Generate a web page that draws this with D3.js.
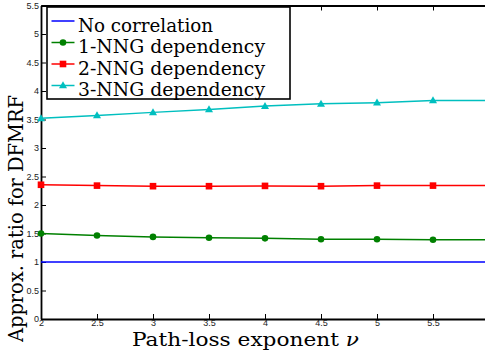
<!DOCTYPE html>
<html>
<head>
<meta charset="utf-8">
<script src="https://cdn.jsdelivr.net/npm/d3@7"></script>
<style>
  html, body { margin: 0; padding: 0; background: #fff; }
  svg { display: block; }
  .serif { font-family: "DejaVu Serif", "Liberation Serif", "Noto Serif", serif; }
  .sans { font-family: "Liberation Sans", "DejaVu Sans", sans-serif; }
</style>
</head>
<body>
<svg id="chart" width="485" height="357"></svg>
<script>
// Path-loss exponent values (x) and approximation ratios per dependency model
const nu = [2, 2.5, 3, 3.5, 4, 4.5, 5, 5.5, 6];
const noCorrelation = [1, 1, 1, 1, 1, 1, 1, 1, 1];
const nng1 = [1.50, 1.465, 1.44, 1.425, 1.415, 1.40, 1.40, 1.39, 1.39];
const nng2 = [2.355, 2.34, 2.33, 2.33, 2.335, 2.33, 2.34, 2.34, 2.34];
const nng3 = [3.52, 3.57, 3.625, 3.675, 3.735, 3.775, 3.795, 3.835, 3.835];

const xTicks = [2, 2.5, 3, 3.5, 4, 4.5, 5, 5.5];
const yTicks = [0, 0.5, 1, 1.5, 2, 2.5, 3, 3.5, 4, 4.5, 5, 5.5];

const seriesNames = ["No correlation", "1-NNG dependency", "2-NNG dependency", "3-NNG dependency"];
const seriesValues = [noCorrelation, nng1, nng2, nng3];
const seriesColors = ["#0000ff", "#008000", "#ff0000", "#00bfbf"];
const seriesMarkers = [null, "circle", "square", "triangle"];

const svg = d3.select("#chart");
const plotLeft = 41, plotRight = 489, plotTop = 5.5, plotBottom = 319;

const x = d3.scaleLinear().domain([2, 6]).range([plotLeft, plotRight]);
const y = d3.scaleLinear().domain([0, 5.5]).range([plotBottom, plotTop]);

// Axes: ticks point inward, box style with top axis
function styleAxis(g) {
  g.attr("font-family", null).attr("font-size", null);
  g.select(".domain").attr("stroke", "#000").attr("stroke-width", 1.8);
  g.selectAll(".tick line").attr("stroke", "#000").attr("stroke-width", 1);
  g.selectAll(".tick text").attr("fill", "#222").attr("class", "sans").style("font-size", "9px");
}

svg.append("g")
  .attr("transform", `translate(0,${plotBottom})`)
  .call(d3.axisBottom(x).tickValues(xTicks).tickFormat(d3.format("")).tickSizeInner(-5).tickSizeOuter(0).tickPadding(1))
  .call(styleAxis);

svg.append("g")
  .attr("transform", `translate(0,${plotTop})`)
  .call(d3.axisTop(x).tickValues(xTicks).tickFormat("").tickSizeInner(-5).tickSizeOuter(0))
  .call(styleAxis);

svg.append("g")
  .attr("transform", `translate(${plotLeft},0)`)
  .call(d3.axisLeft(y).tickValues(yTicks).tickFormat(d3.format("")).tickSizeInner(-5).tickSizeOuter(0).tickPadding(2))
  .call(styleAxis);

// Series lines and markers
const line = d3.line().x((d, i) => x(nu[i])).y(d => y(d));

function drawMarker(g, type, cx, cy, color) {
  if (type === "circle") {
    g.append("circle").attr("cx", cx).attr("cy", cy).attr("r", 3.3).attr("fill", color);
  } else if (type === "square") {
    g.append("rect").attr("x", cx - 3.3).attr("y", cy - 3.3).attr("width", 6.6).attr("height", 6.6).attr("fill", color);
  } else if (type === "triangle") {
    g.append("path")
      .attr("d", `M${cx},${cy - 4.2}L${cx + 4},${cy + 2.8}L${cx - 4},${cy + 2.8}Z`)
      .attr("fill", color);
  }
}

seriesValues.forEach((vals, k) => {
  const g = svg.append("g");
  g.append("path")
    .datum(vals)
    .attr("d", line)
    .attr("fill", "none")
    .attr("stroke", seriesColors[k])
    .attr("stroke-width", 1.5);
  if (seriesMarkers[k]) {
    vals.forEach((v, i) => drawMarker(g, seriesMarkers[k], x(nu[i]), y(v), seriesColors[k]));
  }
});

// Legend
const legend = svg.append("g");
legend.append("rect")
  .attr("x", 47).attr("y", 7).attr("width", 243).attr("height", 92)
  .attr("fill", "#fff").attr("stroke", "#000").attr("stroke-width", 1.6);

const legendWidths = [135, 187, 187, 187];
seriesNames.forEach((name, k) => {
  const base = 31.5 + k * 21.5;
  const ly = base - 10.5;
  legend.append("line")
    .attr("x1", 51.5).attr("x2", 74.5).attr("y1", ly).attr("y2", ly)
    .attr("stroke", seriesColors[k]).attr("stroke-width", 1.5);
  if (seriesMarkers[k]) drawMarker(legend, seriesMarkers[k], 63, ly, seriesColors[k]);
  legend.append("text")
    .attr("class", "serif")
    .attr("x", 78).attr("y", base)
    .style("font-size", "19px")
    .attr("textLength", legendWidths[k]).attr("lengthAdjust", "spacingAndGlyphs")
    .attr("fill", "#000")
    .text(name);
});

// Axis titles
const xTitle = svg.append("text")
  .attr("class", "serif")
  .attr("x", 245.5).attr("y", 346)
  .attr("text-anchor", "middle")
  .style("font-size", "19px")
  .attr("textLength", 227).attr("lengthAdjust", "spacingAndGlyphs")
  .attr("fill", "#000");
xTitle.append("tspan").text("Path-loss exponent ");
xTitle.append("tspan").style("font-style", "italic").text("ν");

svg.append("text")
  .attr("class", "serif")
  .attr("transform", "translate(23,218.5) rotate(-90)")
  .attr("text-anchor", "middle")
  .style("font-size", "20px")
  .attr("textLength", 247).attr("lengthAdjust", "spacingAndGlyphs")
  .attr("fill", "#000")
  .text("Approx. ratio for DFMRF");
</script>
</body>
</html>
